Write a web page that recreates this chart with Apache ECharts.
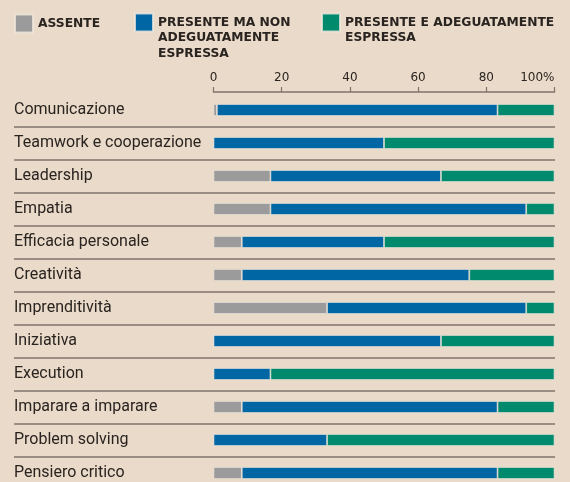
<!DOCTYPE html>
<html><head><meta charset="utf-8">
<script src="https://cdn.jsdelivr.net/npm/echarts@6/dist/echarts.min.js"></script>
<style>html,body{margin:0;padding:0;background:#e9dac9;}#c{width:570px;height:482px;}</style>
</head><body><div id="c"></div>
<script>
const categories = ["Comunicazione","Teamwork e cooperazione","Leadership","Empatia","Efficacia personale","Creatività","Imprenditività","Iniziativa","Execution","Imparare a imparare","Problem solving","Pensiero critico"];
const assente = [1, 0, 16.7, 16.7, 8.3, 8.3, 33.3, 0, 0, 8.3, 0, 8.3];
const presenteNon = [82.3, 50, 50, 75, 41.7, 66.7, 58.4, 66.7, 16.7, 75, 33.3, 75];
const presenteAdeg = [16.7, 50, 33.3, 8.3, 50, 25, 8.3, 33.3, 83.3, 16.7, 66.7, 16.7];
const seriesNames = ["ASSENTE", "PRESENTE MA NON\nADEGUATAMENTE\nESPRESSA", "PRESENTE E ADEGUATAMENTE\nESPRESSA"];
const colors = ["#9b9b9b", "#0067a4", "#008a6d"];
const tickLabels = {0:"0",20:"20",40:"40",60:"60",80:"80",100:"100%"};

const chart = echarts.init(document.getElementById('c'), null, {renderer:'canvas'});
const txt = '#2a2420';
const sep = '#7f746c';
const LH = 15.5;
function nLines(n){ return n.split('\n').length; }
function legendName(n){ return '\n'.repeat(nLines(n)-1) + n; }
const legendLeft = [14, 134, 321];
const iconCenter = 22.5;
chart.setOption({
  backgroundColor: '#e9dac9',
  animation: false,
  legend: seriesNames.map((n,i)=>{
    const L = 2*nLines(n)-1;
    const h = Math.max(18, L*LH);
    return {
      data:[n], left: legendLeft[i], top: iconCenter - h/2, padding: 0,
      itemWidth: 18, itemHeight: 18, icon: 'rect', itemGap: 6,
      formatter: legendName,
      textStyle: {fontFamily:'DejaVu Sans', fontWeight:'bold', fontSize:12.3, color: txt, lineHeight: LH}
    };
  }),
  grid: [
    {left: 14, right: 15, top: 93.5, height: 396, outerBoundsMode:'none', containLabel:false},
    {left: 213.5, right: 15.5, top: 93.5, height: 396, outerBoundsMode:'none', containLabel:false}
  ],
  xAxis: [
    {gridIndex:0, type:'value', show:false, min:0, max:100},
    {gridIndex:1, type:'value', position:'top', min:0, max:100, interval:20, offset:1.5,
     axisLine:{show:true, lineStyle:{color:sep, width:1.5}},
     axisTick:{show:true, length:5, lineStyle:{color:sep, width:1.2}},
     splitLine:{show:false},
     axisLabel:{margin:8, color:txt, fontFamily:'DejaVu Sans', fontSize:12, alignMaxLabel:'right',
       formatter: v => tickLabels[v]}
    }
  ],
  yAxis: [
    {gridIndex:0, type:'category', inverse:true, data: categories,
     axisLine:{show:false}, axisTick:{show:false},
     axisLabel:{inside:true, margin:0, color:txt, fontFamily:'Roboto', fontSize:16, padding:[4,0,0,0]},
     splitLine:{show:true, interval:(idx)=>idx>0, lineStyle:{color:sep, width:1.5}}
    },
    {gridIndex:1, type:'category', inverse:true, data: categories, show:false}
  ],
  series: [assente, presenteNon, presenteAdeg].map((d,i)=>({
    name: seriesNames[i], type:'bar', stack:'s', xAxisIndex:1, yAxisIndex:1,
    barWidth: 12, data: d,
    itemStyle:{color: colors[i], borderColor:'rgba(240,232,222,0.8)', borderWidth:0.8}
  }))
});
</script></body></html>
